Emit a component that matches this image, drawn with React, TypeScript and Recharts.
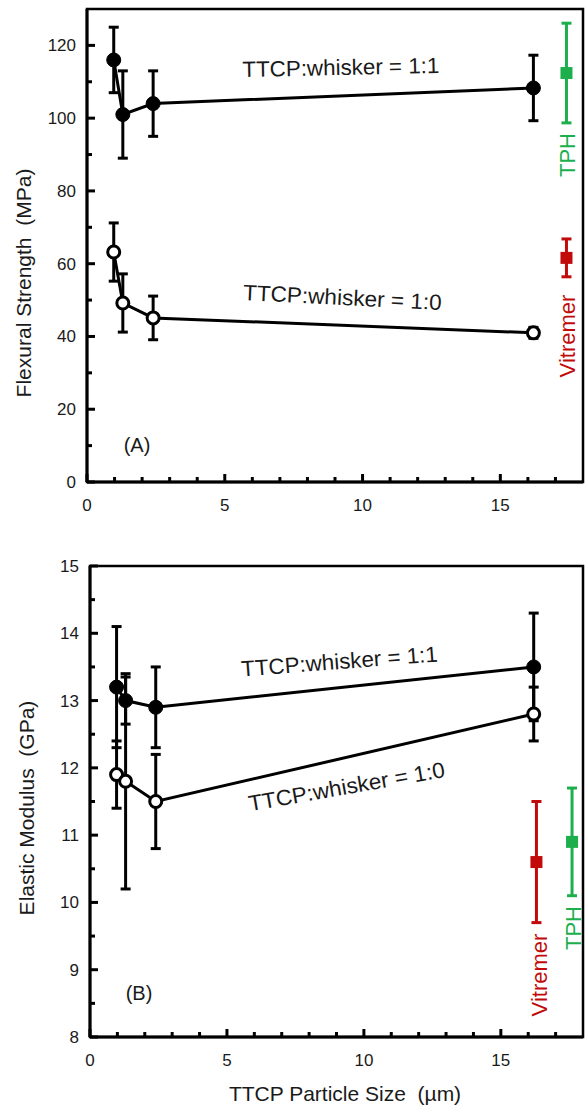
import React from 'react';
import { LineChart, Line, XAxis, YAxis, ErrorBar, ReferenceArea } from 'recharts';

// TTCP particle size (um)
const sizes = [0.97, 1.3, 2.4, 16.2];

// (A) flexural strength, MPa
const flexWhisker = [116, 101, 104, 108.3];
const flexWhiskerErr = [9, 12, 9, 9];
const flexPlain = [63.2, 49.2, 45.1, 41];
const flexPlainErr = [8, 8, 6, 1.5];
const flexRefX = 17.4;
const flexTph = 112.4;
const flexTphErr = 13.7;
const flexVit = 61.6;
const flexVitErr = 5.2;

// (B) elastic modulus, GPa
const modWhisker = [13.2, 13.0, 12.9, 13.5];
const modWhiskerErr = [0.9, 0.35, 0.6, 0.8];
const modPlain = [11.9, 11.8, 11.5, 12.8];
const modPlainErr = [0.5, 1.6, 0.7, 0.4];
const modVitX = 16.3;
const modVit = 10.6;
const modVitErr = 0.9;
const modTphX = 17.6;
const modTph = 10.9;
const modTphErr = 0.8;

const xTicksTop = [0, 1, 2, 3, 4, 5, 6, 7, 8, 9, 10, 11, 12, 13, 14, 15, 16, 17];
const yTicksTop = [0, 10, 20, 30, 40, 50, 60, 70, 80, 90, 100, 110, 120];
const xTicksBottom = [0, 1, 2, 3, 4, 5, 6, 7, 8, 9, 10, 11, 12, 13, 14, 15, 16, 17];
const yTicksBottom = [8, 8.5, 9, 9.5, 10, 10.5, 11, 11.5, 12, 12.5, 13, 13.5, 14, 14.5, 15];

const FONT = '"Liberation Sans", Arial, sans-serif';
const GREEN = '#1caf4c';
const RED = '#c20a0a';

const pts = (ys: number[], es: number[]) => sizes.map((x, i) => ({ x, y: ys[i], e: es[i] }));
const isMajor = (v: number, step: number) => Math.abs(v / step - Math.round(v / step)) < 1e-6;

// inward tick marks drawn as custom dots sitting on the axes
const xMarkDot = (step: number) => (p: any) => (
  <path key={`xm${p.index}`} d={`M${p.cx},${p.cy}V${p.cy - (isMajor(p.payload.x, step) ? 8 : 5)}`} stroke="#000" strokeWidth={3} fill="none" />
);
const yMarkDot = (step: number) => (p: any) => (
  <path key={`ym${p.index}`} d={`M${p.cx},${p.cy}H${p.cx + (isMajor(p.payload.y, step) ? 8 : 5)}`} stroke="#000" strokeWidth={3} fill="none" />
);

const makeXTick = (step: number) => (props: any) => {
  const { x, y, payload } = props;
  const v = payload.value;
  if (!isMajor(v, step)) return <g />;
  return (
    <text x={x} y={Number(y) + 29} textAnchor="middle" fontSize={17} fontFamily={FONT} fill="#1a1a1a">
      {v}
    </text>
  );
};

const makeYTick = (step: number) => (props: any) => {
  const { x, y, payload } = props;
  const v = payload.value;
  if (!isMajor(v, step)) return <g />;
  return (
    <text x={Number(x) - 11} y={Number(y) + 6} textAnchor="end" fontSize={17} fontFamily={FONT} fill="#1a1a1a">
      {v}
    </text>
  );
};

const square = (color: string) => (props: any) => (
  <rect key={props.index} x={props.cx - 6} y={props.cy - 6} width={12} height={12} fill={color} />
);

const filledDot = { r: 7, fill: '#000', stroke: '#000', strokeWidth: 1 };
const openDot = { r: 6, fill: '#fff', stroke: '#000', strokeWidth: 3 };
const axisLineStyle = { stroke: '#000', strokeWidth: 3 };

const Txt = ({ x, y, rot = 0, size = 22, color = '#1a1a1a', len, children }: any) => (
  <text
    x={x}
    y={y}
    transform={`rotate(${rot} ${x} ${y})`}
    textAnchor="middle"
    fontSize={size}
    fontFamily={FONT}
    fill={color}
    textLength={len}
    lengthAdjust={len ? 'spacingAndGlyphs' : undefined}
  >
    {children}
  </text>
);

export default function App() {
  return (
    <div style={{ position: 'absolute', left: 0, top: 0, width: 588, height: 1108, background: '#fff' }}>
      <div style={{ position: 'absolute', left: 0, top: 0 }}>
        <LineChart width={588} height={530} margin={{ top: 9, right: 5, bottom: 0, left: 0 }}>
          <XAxis
            type="number"
            dataKey="x"
            domain={[0, 18]}
            ticks={xTicksTop}
            interval={0}
            height={48}
            tickSize={0}
            tickMargin={0}
            tickLine={false}
            axisLine={axisLineStyle}
            tick={makeXTick(5)}
          />
          <YAxis
            type="number"
            domain={[0, 130]}
            ticks={yTicksTop}
            interval={0}
            width={87}
            tickSize={0}
            tickMargin={0}
            tickLine={false}
            axisLine={axisLineStyle}
            tick={makeYTick(20)}
          />
          <ReferenceArea x1={0} x2={18} y1={0} y2={130} fill="#fff" fillOpacity={0} stroke="#000" strokeWidth={2.5} />
          <Line data={xTicksTop.map((x) => ({ x, y: 0 }))} dataKey="y" stroke="none" dot={xMarkDot(5)} isAnimationActive={false} />
          <Line data={yTicksTop.map((y) => ({ x: 0, y }))} dataKey="y" stroke="none" dot={yMarkDot(20)} isAnimationActive={false} />
          <Line data={pts(flexWhisker, flexWhiskerErr)} dataKey="y" stroke="#000" strokeWidth={3} dot={filledDot} isAnimationActive={false}>
            <ErrorBar dataKey="e" width={5} stroke="#000" strokeWidth={3} direction="y" />
          </Line>
          <Line data={pts(flexPlain, flexPlainErr)} dataKey="y" stroke="#000" strokeWidth={3} dot={openDot} isAnimationActive={false}>
            <ErrorBar dataKey="e" width={5} stroke="#000" strokeWidth={3} direction="y" />
          </Line>
          <Line data={[{ x: flexRefX, y: flexTph, e: flexTphErr }]} dataKey="y" stroke={GREEN} strokeWidth={0} dot={square(GREEN)} isAnimationActive={false}>
            <ErrorBar dataKey="e" width={5} stroke={GREEN} strokeWidth={3} direction="y" />
          </Line>
          <Line data={[{ x: flexRefX, y: flexVit, e: flexVitErr }]} dataKey="y" stroke={RED} strokeWidth={0} dot={square(RED)} isAnimationActive={false}>
            <ErrorBar dataKey="e" width={5} stroke={RED} strokeWidth={3} direction="y" />
          </Line>
        </LineChart>
      </div>

      <div style={{ position: 'absolute', left: 0, top: 540 }}>
        <LineChart width={588} height={568} margin={{ top: 26, right: 5, bottom: 0, left: 0 }}>
          <XAxis
            type="number"
            dataKey="x"
            domain={[0, 18]}
            ticks={xTicksBottom}
            interval={0}
            height={71}
            tickSize={0}
            tickMargin={0}
            tickLine={false}
            axisLine={axisLineStyle}
            tick={makeXTick(5)}
          />
          <YAxis
            type="number"
            domain={[8, 15]}
            ticks={yTicksBottom}
            interval={0}
            width={90}
            tickSize={0}
            tickMargin={0}
            tickLine={false}
            axisLine={axisLineStyle}
            tick={makeYTick(1)}
          />
          <ReferenceArea x1={0} x2={18} y1={8} y2={15} fill="#fff" fillOpacity={0} stroke="#000" strokeWidth={2.5} />
          <Line data={xTicksBottom.map((x) => ({ x, y: 8 }))} dataKey="y" stroke="none" dot={xMarkDot(5)} isAnimationActive={false} />
          <Line data={yTicksBottom.map((y) => ({ x: 0, y }))} dataKey="y" stroke="none" dot={yMarkDot(1)} isAnimationActive={false} />
          <Line data={pts(modWhisker, modWhiskerErr)} dataKey="y" stroke="#000" strokeWidth={3} dot={filledDot} isAnimationActive={false}>
            <ErrorBar dataKey="e" width={5} stroke="#000" strokeWidth={3} direction="y" />
          </Line>
          <Line data={pts(modPlain, modPlainErr)} dataKey="y" stroke="#000" strokeWidth={3} dot={openDot} isAnimationActive={false}>
            <ErrorBar dataKey="e" width={5} stroke="#000" strokeWidth={3} direction="y" />
          </Line>
          <Line data={[{ x: modVitX, y: modVit, e: modVitErr }]} dataKey="y" stroke={RED} strokeWidth={0} dot={square(RED)} isAnimationActive={false}>
            <ErrorBar dataKey="e" width={5} stroke={RED} strokeWidth={3} direction="y" />
          </Line>
          <Line data={[{ x: modTphX, y: modTph, e: modTphErr }]} dataKey="y" stroke={GREEN} strokeWidth={0} dot={square(GREEN)} isAnimationActive={false}>
            <ErrorBar dataKey="e" width={5} stroke={GREEN} strokeWidth={3} direction="y" />
          </Line>
        </LineChart>
      </div>

      {/* labels and annotations */}
      <svg width={588} height={1108} style={{ position: 'absolute', left: 0, top: 0, pointerEvents: 'none' }}>
        <Txt x={341} y={75} rot={-1.2} len={197}>TTCP:whisker = 1:1</Txt>
        <Txt x={342} y={305} rot={2.9} len={199}>TTCP:whisker = 1:0</Txt>
        <Txt x={137} y={452} size={20}>(A)</Txt>
        <Txt x={31} y={283} rot={-90} size={21}>{'Flexural Strength\u00A0 (MPa)'}</Txt>
        <Txt x={575} y={155} rot={-90} color={GREEN}>TPH</Txt>
        <Txt x={575} y={336} rot={-90} color={RED}>Vitremer</Txt>

        <Txt x={340} y={669} rot={-4.4} len={197}>TTCP:whisker = 1:1</Txt>
        <Txt x={348} y={794} rot={-10} len={199}>TTCP:whisker = 1:0</Txt>
        <Txt x={139} y={1000} size={20}>(B)</Txt>
        <Txt x={34} y={808} rot={-90} size={21}>{'Elastic Modulus\u00A0 (GPa)'}</Txt>
        <Txt x={547} y={975} rot={-90} color={RED}>Vitremer</Txt>
        <Txt x={581} y={928} rot={-90} color={GREEN}>TPH</Txt>
        <Txt x={345} y={1101} size={21}>{'TTCP Particle Size\u00A0 (µm)'}</Txt>
      </svg>
    </div>
  );
}
